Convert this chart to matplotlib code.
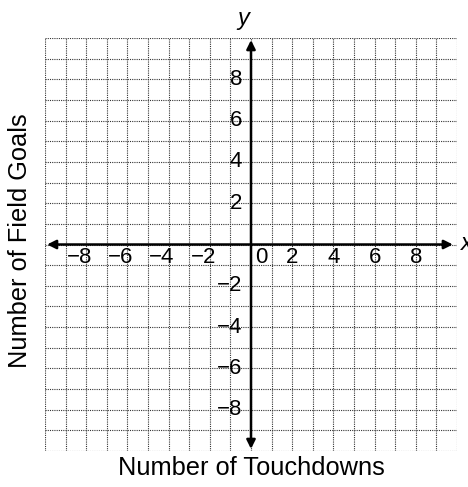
import matplotlib.pyplot as plt
import numpy as np

plt.rcParams['font.family'] = ['Liberation Sans', 'DejaVu Sans']

# grid extent and labelled ticks
lim = 10
x_ticks = [-8, -6, -4, -2, 2, 4, 6, 8]
y_ticks = [-8, -6, -4, -2, 2, 4, 6, 8]
x_title = "Number of Touchdowns"
y_title = "Number of Field Goals"

fig = plt.figure(figsize=(4.68, 4.87), dpi=100)
ax = fig.add_axes([45/468, 36/487, 412/468, 413/487])
ax.set_xlim(-lim, lim)
ax.set_ylim(-lim, lim)
ax.axis('off')

# dotted grid, one line per unit
for v in np.arange(-lim, lim + 1):
    ax.plot([v, v], [-lim, lim], color='#333333', lw=0.8, ls=(0, (1, 1)), zorder=1)
    ax.plot([-lim, lim], [v, v], color='#333333', lw=0.8, ls=(0, (1, 1)), zorder=1)

# axes with arrows
arrow = dict(arrowstyle='<|-|>', color='black', lw=1.8, mutation_scale=13,
             shrinkA=0, shrinkB=0)
ax.annotate('', xy=(9.8, 0), xytext=(-9.9, 0), arrowprops=arrow, zorder=3)
ax.annotate('', xy=(0, 9.9), xytext=(0, -9.9), arrowprops=arrow, zorder=3)

fs = 16
for v in x_ticks:
    if v < 0:
        ax.text(v + 0.3, -0.62, '\u2212' + str(-v), ha='right', va='center', fontsize=fs)
    else:
        ax.text(v, -0.62, str(v), ha='center', va='center', fontsize=fs)
ax.text(0.5, -0.62, '0', ha='center', va='center', fontsize=fs)
for v in y_ticks:
    lab = '\u2212' + str(-v) if v < 0 else str(v)
    ax.text(-0.42, v, lab, ha='right', va='center', fontsize=fs)

fig.text(243/468, 1 - 18/487, 'y', style='italic', fontsize=17, ha='center', va='center')
fig.text(461/468, 1 - 244/487, 'x', style='italic', fontsize=17, ha='left', va='center')

fig.text(251/468, 1 - 468/487, x_title, fontsize=18.3, ha='center', va='center')
fig.text(20/468, 1 - 241/487, y_title, fontsize=18.3, ha='center', va='center', rotation=90)

fig.savefig('out.png', dpi=100)
